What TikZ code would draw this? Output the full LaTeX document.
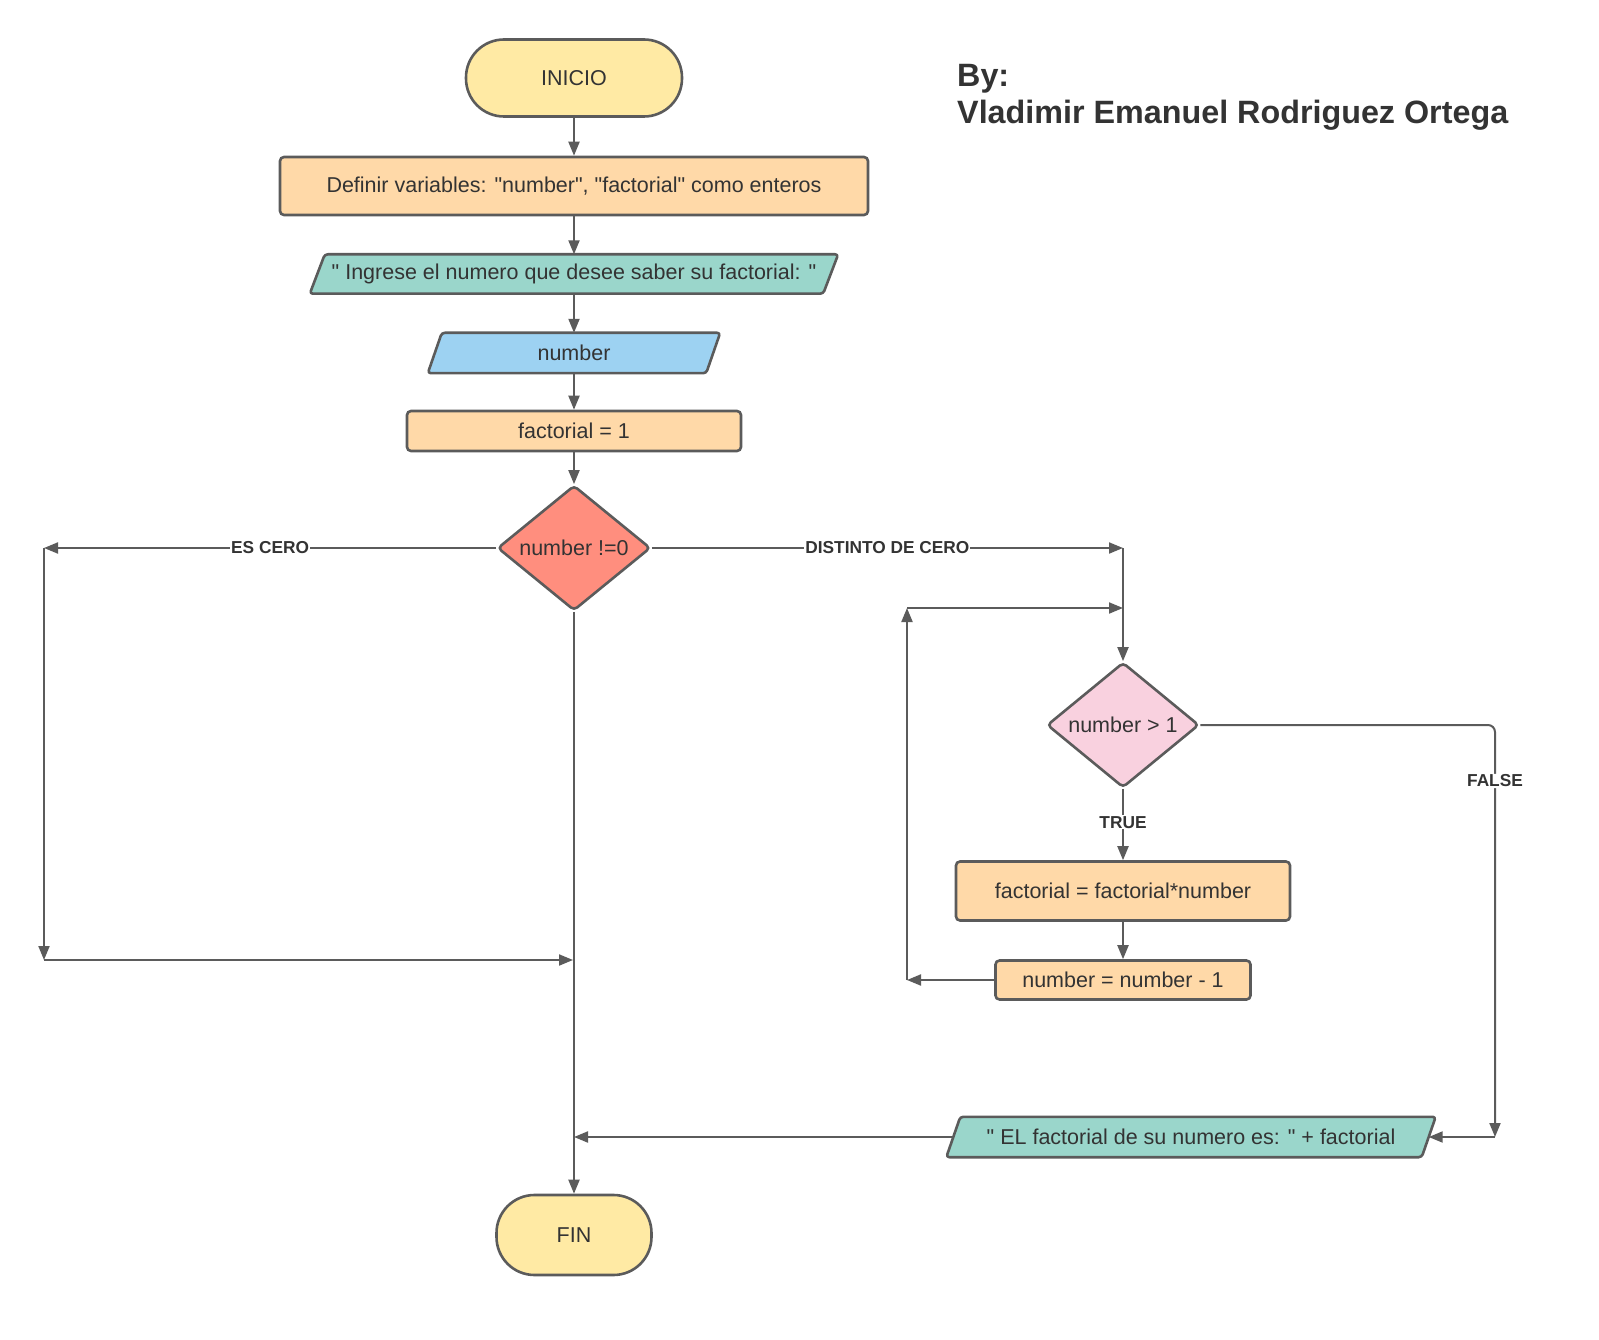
\documentclass[tikz,border=0pt]{standalone}
\usepackage{fontspec}
\setmainfont{Liberation Sans}[Ligatures=TeXOff]
\usetikzlibrary{arrows.meta,shapes.geometric,calc}
\pgfdeclarelayer{background}
\pgfsetlayers{background,main}
\definecolor{strk}{HTML}{5B5B5B}
\definecolor{termfill}{HTML}{FFEAA4}
\definecolor{procfill}{HTML}{FFD9A8}
\definecolor{iofill}{HTML}{9AD6CB}
\definecolor{infill}{HTML}{9DD2F2}
\definecolor{redfill}{HTML}{FF8E7E}
\definecolor{pinkfill}{HTML}{F9D1DF}
\definecolor{txt}{HTML}{333333}
\newcommand\mypara[3]{%
  \begin{pgfonlayer}{background}
  \draw[fill=#3, draw=strk, line width=2.6pt, rounded corners=3pt, line join=round]
    ($(#1.north west)+(#2,0)$) -- (#1.north east) -- ($(#1.south east)+(-#2,0)$) -- (#1.south west) -- cycle;
  \end{pgfonlayer}}
\begin{document}
\begin{tikzpicture}[x=1pt,y=-1pt,
  base/.style={draw=strk, line width=2.6pt, text=txt, font=\fontsize{21.5}{25}\selectfont, inner sep=0pt},
  term/.style={base, fill=termfill, rectangle, rounded corners=38pt},
  proc/.style={base, fill=procfill, rectangle, rounded corners=4pt},
  iotext/.style={rectangle, text=txt, font=\fontsize{21.5}{25}\selectfont, inner sep=0pt},
  dia/.style={base, diamond, rounded corners=4pt},
  conn/.style={draw=strk, line width=2pt, -{Triangle[length=14pt,width=11pt]}},
  lbl/.style={fill=white, text=txt, font=\bfseries\fontsize{17.3}{19}\selectfont, inner sep=1pt}]
\useasboundingbox (0,0) rectangle (1599,1340);

% title
\node[anchor=base west, text=txt, font=\bfseries\fontsize{32.3}{37}\selectfont, inner sep=0pt] (by) at (957,87) {By:};
\node[anchor=base west, text=txt, font=\bfseries\fontsize{32.3}{37}\selectfont, inner sep=0pt] (author) at (957,124) {Vladimir Emanuel Rodriguez Ortega};

% nodes
\node[term, minimum width=216pt, minimum height=77pt] (ini) at (574,78) {INICIO};
\node[proc, minimum width=588pt, minimum height=58pt] (def) at (574,186) {Definir variables: "number", "factorial" como enteros};
\node[iotext, minimum width=528pt, minimum height=39pt] (ing) at (574,274) {" Ingrese el numero que desee saber su factorial: "};
\mypara{ing}{15}{iofill}
\node[iotext, minimum width=292pt, minimum height=40pt] (num) at (574,353) {number};
\mypara{num}{14}{infill}
\node[proc, minimum width=334pt, minimum height=40pt] (f1) at (574,431) {factorial = 1};
\node[dia, fill=redfill, minimum width=153pt, minimum height=115pt] (d1) at (574,548) {number !=0};
\node[dia, fill=pinkfill, minimum width=152pt, minimum height=115pt] (d2) at (1123,725) {number > 1};
\node[proc, minimum width=334pt, minimum height=59pt] (fm) at (1123,891) {factorial = factorial*number};
\node[proc, minimum width=255pt, minimum height=39pt] (nm) at (1123,980) {number = number - 1};
\node[iotext, minimum width=489pt, minimum height=40pt] (el) at (1191,1137) {" EL factorial de su numero es: " + factorial};
\mypara{el}{14}{iofill}
\node[term, minimum width=155pt, minimum height=80pt] (fin) at (574,1235) {FIN};

% helper coordinates
\coordinate (cz1) at (44,548);
\coordinate (cz2) at (44,960);
\coordinate (mj1) at (573,960);
\coordinate (dz1) at (1123,548);
\coordinate (lp1) at (907,980);
\coordinate (lp2) at (907,608);
\coordinate (lp3) at (1123,608);
\coordinate (fa1) at (1495,725);
\coordinate (fa2) at (1495,1137);
\coordinate (mj2) at (574,1137);

% connectors
\draw[conn] (ini.south) -- (def.north);
\draw[conn] (def.south) -- (ing.north);
\draw[conn] (ing.south) -- (num.north);
\draw[conn] (num.south) -- (f1.north);
\draw[conn] (f1.south) -- (d1.north);
\draw[conn] (d1.west) -- node[lbl, pos=0.5] {ES CERO} (cz1);
\draw[conn] (cz1) -- (cz2);
\draw[conn] (cz2) -- (mj1);
\draw[conn] (d1.south) -- (fin.north);
\draw[conn] (d1.east) -- node[lbl, pos=0.5] {DISTINTO DE CERO} (dz1);
\draw[conn] (dz1) -- (d2.north);
\draw[conn] (d2.south) -- node[lbl, pos=0.47] {TRUE} (fm.north);
\draw[conn] (fm.south) -- (nm.north);
\draw[conn] (nm.west) -- (lp1);
\draw[conn] (lp1) -- (lp2);
\draw[conn] (lp2) -- (lp3);
\draw[conn, rounded corners=7pt] (d2.east) -- (fa1) -- node[lbl, pos=0.136] {FALSE} (fa2);
\draw[conn] (fa2) -- ($(el.east)+(-7,0)$);
\draw[conn] ($(el.west)+(7,0)$) -- (mj2);
\end{tikzpicture}
\end{document}
